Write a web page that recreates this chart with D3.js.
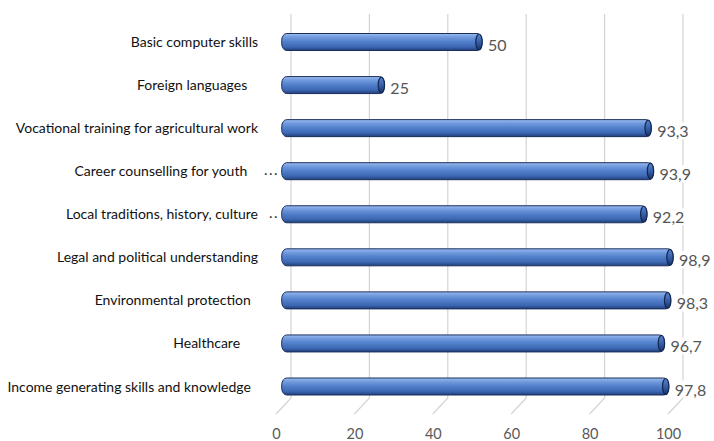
<!DOCTYPE html>
<html>
<head>
<meta charset="utf-8">
<script src="https://cdn.jsdelivr.net/npm/d3@7"></script>
<style>
  html, body { margin: 0; padding: 0; background: #fff; }
  svg { display: block; }
</style>
</head>
<body>
<svg id="chart" width="714" height="441"></svg>
<script>
// Survey topics (top to bottom), trailing spaces kept as typed in the labels
const categories = [
  "Basic computer skills",
  "Foreign languages   ",
  "Vocational training for agricultural work",
  "Career counselling for youth   ",
  "Local traditions, history, culture",
  "Legal and political understanding",
  "Environmental protection  ",
  "Healthcare     ",
  "Income generating skills and knowledge  "
];
// Leader marks printed between some labels and their bars
const leaders = ["", "", "", "...", "..", "", "", "", ""];
// Share of respondents, %
const values = [50, 25, 93.3, 93.9, 92.2, 98.9, 98.3, 96.7, 97.8];
const valueLabels = ["50", "25", "93,3", "93,9", "92,2", "98,9", "98,3", "96,7", "97,8"];
const ticks = [0, 20, 40, 60, 80, 100];

const svg = d3.select("#chart");

// Back wall of the 3-D plot area and the bars in front of it
const xGrid = d3.scaleLinear().domain([0, 100]).range([291, 683]);
const xBar = d3.scaleLinear().domain([0, 100]).range([286.7, 677.3]);
const y = d3.scalePoint().domain(categories).range([42, 386.5]);
const barH = 17;
const gridTop = 14, gridBottom = 398, depthX = -15, depthY = 16;

const defs = svg.append("defs");
const grad = defs.append("linearGradient")
  .attr("id", "barFill").attr("x1", 0).attr("y1", 0).attr("x2", 0).attr("y2", 1);
[["0%", "#9dbdf0"], ["18%", "#779fe0"], ["45%", "#5482cc"], ["78%", "#3d68b4"], ["100%", "#213f7a"]]
  .forEach(([o, c]) => grad.append("stop").attr("offset", o).attr("stop-color", c));
const capGrad = defs.append("linearGradient")
  .attr("id", "capFill").attr("x1", 0).attr("y1", 0).attr("x2", 0).attr("y2", 1);
[["0%", "#5a86d0"], ["60%", "#2f579e"], ["100%", "#1a3266"]]
  .forEach(([o, c]) => capGrad.append("stop").attr("offset", o).attr("stop-color", c));

// Gridlines: vertical on the back wall, slanting forward along the floor
svg.append("g").selectAll("path")
  .data(ticks)
  .join("path")
  .attr("d", t => {
    const gx = xGrid(t);
    return `M${gx},${gridTop}V${gridBottom}L${gx + depthX},${gridBottom + depthY}`;
  })
  .attr("fill", "none")
  .attr("stroke", "#d4d4d4")
  .attr("stroke-width", 1.2);

// Tick labels along the front edge of the floor
svg.append("g").selectAll("text")
  .data(ticks)
  .join("text")
  .attr("x", t => xGrid(t) + depthX + 0.5)
  .attr("y", 439)
  .attr("text-anchor", "middle")
  .attr("font-family", "Lato, 'Open Sans', sans-serif")
  .attr("font-size", 14.5)
  .attr("fill", "#595959")
  .text(t => t);

// Category labels
svg.append("g").selectAll("text")
  .data(categories)
  .join("text")
  .attr("x", 258)
  .attr("y", d => y(d) + 5)
  .attr("text-anchor", "end")
  .style("white-space", "pre")
  .attr("font-family", "Lato, 'Open Sans', sans-serif")
  .attr("font-size", 14)
  .attr("fill", "#111")
  .text(d => d);

svg.append("g").selectAll("text")
  .data(categories.map((c, i) => ({ c, l: leaders[i] })).filter(d => d.l))
  .join("text")
  .attr("x", 279)
  .attr("y", d => y(d.c) + 4)
  .attr("text-anchor", "end")
  .attr("font-family", "Lato, sans-serif")
  .attr("font-size", 15)
  .attr("letter-spacing", 1.5)
  .attr("fill", "#333")
  .text(d => d.l);

// Cylinder bars
const rows = categories.map((c, i) => ({ c, v: values[i], label: valueLabels[i] }));
const bars = svg.append("g").selectAll("g").data(rows).join("g");

bars.append("rect")
  .attr("x", xBar(0) - 5)
  .attr("y", d => y(d.c) - barH / 2)
  .attr("width", d => xBar(d.v) - xBar(0) + 5)
  .attr("height", barH)
  .attr("rx", 5).attr("ry", 7)
  .attr("fill", "url(#barFill)")
  .attr("stroke", "#1a2f5c")
  .attr("stroke-width", 1);

bars.append("ellipse")
  .attr("cx", d => xBar(d.v) - 3)
  .attr("cy", d => y(d.c))
  .attr("rx", 3.2)
  .attr("ry", barH / 2 - 0.5)
  .attr("fill", "url(#capFill)")
  .attr("stroke", "#13264f")
  .attr("stroke-width", 1.2);

// Value labels sit on an opaque backing so the gridlines pass behind them
const vl = bars.append("g")
  .attr("transform", d => `translate(${xBar(d.v) + 6},${y(d.c) + 9})`);
vl.append("text")
  .attr("font-family", "Lato, 'Open Sans', sans-serif")
  .attr("font-size", 16)
  .attr("fill", "#555")
  .text(d => d.label)
  .each(function () {
    const b = this.getBBox();
    d3.select(this.parentNode).insert("rect", "text")
      .attr("x", b.x - 1).attr("y", b.y + 1)
      .attr("width", b.width + 2).attr("height", b.height - 2)
      .attr("fill", "#fff");
  });
</script>
</body>
</html>
